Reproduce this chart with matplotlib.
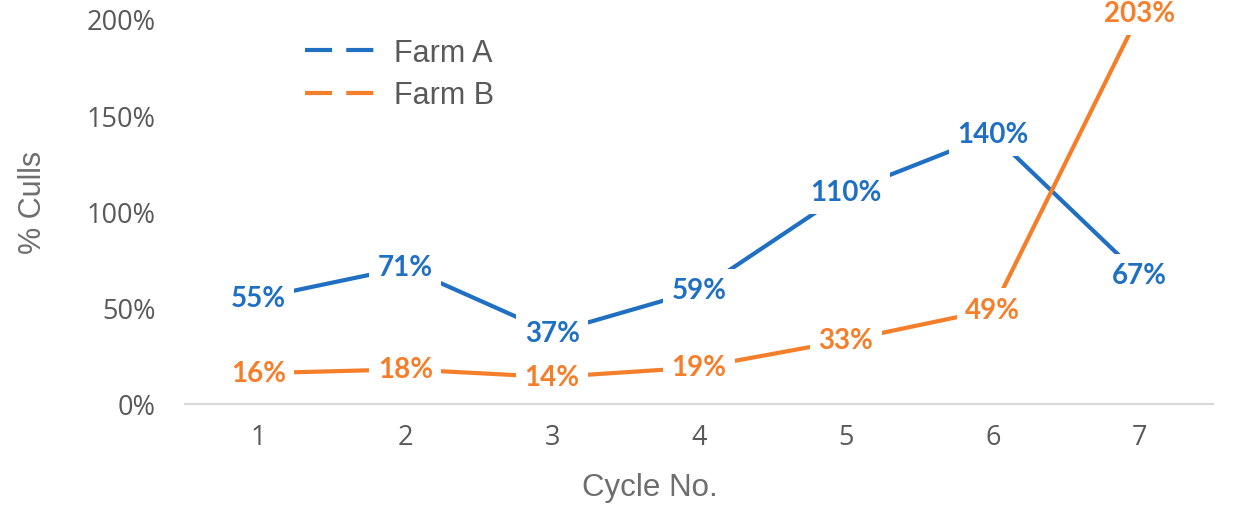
import matplotlib.pyplot as plt
from matplotlib.lines import Line2D
from matplotlib.ticker import PercentFormatter

# =========================
# DATA
# =========================
cycles = [1, 2, 3, 4, 5, 6, 7]
farm_a = [55, 71, 37, 59, 110, 140, 67]
farm_b = [16, 18, 14, 19, 33, 49, 203]
y_ticks = [0, 50, 100, 150, 200]

BLUE = "#1F6FC2"
ORANGE = "#F47E2A"
GREY = "#595959"

# =========================
# PLOT
# =========================
fig = plt.figure(figsize=(12.36, 5.10), dpi=100)
ax = fig.add_axes([185 / 1236, 1 - 405 / 510, 1028 / 1236, 385 / 510])

for vals, col in [(farm_a, BLUE), (farm_b, ORANGE)]:
    ax.plot(cycles, vals, color=col, lw=3, clip_on=False, zorder=2,
            solid_capstyle="butt")
    for x, v in zip(cycles, vals):
        ax.text(x, v, f"{v}%", color=col, fontsize=20, fontweight="bold",
                family="Lato", ha="center", va="center", zorder=4,
                bbox=dict(boxstyle="square,pad=0.3", fc="white", ec="none"))

ax.set_xlim(0.5, 7.5)
ax.set_ylim(0, 200)
ax.set_xticks(cycles)
ax.set_yticks(y_ticks)
ax.yaxis.set_major_formatter(PercentFormatter(decimals=0))

for s in ["top", "right", "left"]:
    ax.spines[s].set_visible(False)
ax.spines["bottom"].set_color("#D9D9D9")
ax.spines["bottom"].set_linewidth(1.6)
ax.spines["bottom"].set_zorder(1)

ax.tick_params(axis="both", length=0, colors=GREY, labelsize=19.5)
ax.tick_params(axis="x", pad=14)
ax.tick_params(axis="y", pad=21)
for lab in ax.get_xticklabels() + ax.get_yticklabels():
    lab.set_family("Open Sans")

ax.set_ylabel("% Culls", fontsize=22, color="#6E6E6E", family="Liberation Sans")
ax.yaxis.set_label_coords(-0.133, 0.525)
ax.set_xlabel("Cycle No.", fontsize=22.5, color="#6E6E6E", family="Liberation Sans",
              va="center")
ax.xaxis.set_label_coords(0.452, -0.216)

handles = [Line2D([], [], color=BLUE, lw=3, dashes=(6.5, 3.4)),
           Line2D([], [], color=ORANGE, lw=3, dashes=(6.5, 3.4))]
leg = ax.legend(handles, ["Farm A", "Farm B"], loc="upper left",
                bbox_to_anchor=(305 / 1236, 1 - 39 / 510),
                bbox_transform=fig.transFigure, frameon=False,
                prop={"family": "Liberation Sans", "size": 22},
                handlelength=2.4, handletextpad=0.5, labelspacing=0.4,
                borderpad=0, borderaxespad=0)
for t in leg.get_texts():
    t.set_color(GREY)

fig.savefig("out.png", dpi=100, facecolor="white")
